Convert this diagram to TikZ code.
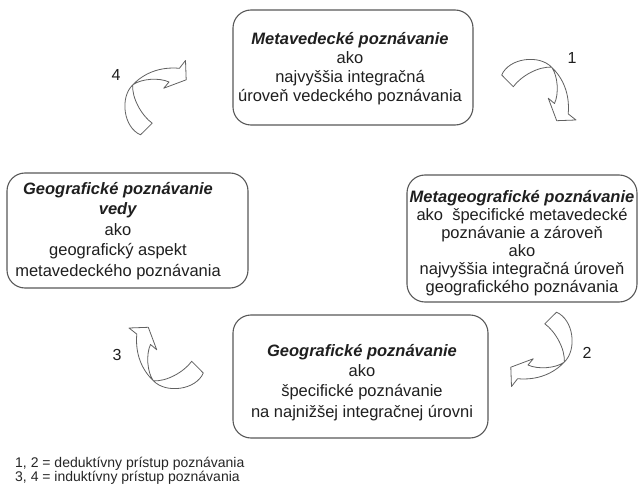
\documentclass[tikz,border=0pt]{standalone}
\usepackage{fontspec}
\setmainfont{Liberation Sans}
\begin{document}
\begin{tikzpicture}[x=1pt,y=-1pt,
  box/.style={draw=black!65, line width=1.1pt, rounded corners=18pt, inner sep=0pt},
  boxtext/.style={align=center, inner sep=0pt, text=black!88},
  arrowline/.style={draw=black!62, line width=0.8pt, fill=white, line join=round},
  numlabel/.style={inner sep=0pt, text=black!88, font=\fontsize{16}{18}\selectfont},
  legend/.style={inner sep=0pt, align=left, anchor=west, text=black!85, font=\fontsize{14}{11.8}\selectfont},
  curvarrow/.pic={
    \path[arrowline] (-37.3,-15) .. controls (-30,-32) and (0,-36) .. (12.7,-22.7)
      .. controls (24,-12) and (31,4) .. (29.2,23.9) -- (37,30) -- (17.7,30.7) -- (9.3,8.3)
      -- (15.5,13.5) .. controls (20,4) and (19,-14) .. (12.7,-22.7)
      .. controls (0,-24) and (-18,-14) .. (-25.7,-3.3) -- cycle;
  }]
\useasboundingbox (0,0) rectangle (641,487);
\fill[white] (0,0) rectangle (641,487);

% boxes
\node[box, minimum width=240pt, minimum height=115pt] (b1) at (353,67.5) {};
\node[box, minimum width=230pt, minimum height=127pt] (b2) at (522,238.5) {};
\node[box, minimum width=241pt, minimum height=115pt] (b3) at (127.5,230.5) {};
\node[box, minimum width=255pt, minimum height=123pt] (b4) at (360.5,376.5) {};

% texts
\node[boxtext, font=\fontsize{16.5}{18.8}\selectfont] (t1) at (350,68.5)
  {\textbf{\textit{Metavedecké poznávanie}}\\ako\\najvyššia integračná\\úroveň vedeckého poznávania};
\node[boxtext, font=\fontsize{16.5}{17.9}\selectfont] (t2) at (522,243)
  {\textbf{\textit{Metageografické poznávanie}}\\ako~ špecifické metavedecké\\poznávanie a zároveň\\ako\\najvyššia integračná úroveň\\geografického poznávania};
\node[boxtext, font=\fontsize{16.5}{20.4}\selectfont] (t3) at (118,231)
  {\textbf{\textit{Geografické poznávanie}}\\\textbf{\textit{vedy}}\\ako\\geografický aspekt\\metavedeckého poznávania};
\node[boxtext, font=\fontsize{16.5}{20.3}\selectfont] (t4) at (362,382.5)
  {\textbf{\textit{Geografické poznávanie}}\\ako\\špecifické poznávanie\\na najnižšej integračnej úrovni};

% curved block arrows
\coordinate (a1) at (539,90);
\coordinate (a2) at (541.5,349.5);
\coordinate (a3) at (166,358);
\coordinate (a4) at (155.5,97.5);
\pic at (a1) {curvarrow};
\pic[rotate=-90] at (a2) {curvarrow};
\pic[rotate=180] at (a3) {curvarrow};
\pic[rotate=90] at (a4) {curvarrow};

% numbers
\node[numlabel] (n1) at (572,58) {1};
\node[numlabel] (n2) at (587,353) {2};
\node[numlabel] (n3) at (117,355) {3};
\node[numlabel] (n4) at (116,75) {4};

% legend
\node[legend] (leg) at (15,471) {1, 2 = deduktívny prístup poznávania\\3, 4 = induktívny prístup poznávania};
\end{tikzpicture}
\end{document}
